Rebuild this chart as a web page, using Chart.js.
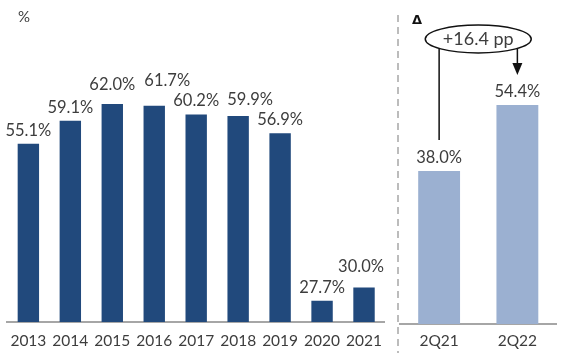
<!DOCTYPE html>
<html>
<head>
<meta charset="utf-8">
<script src="https://cdn.jsdelivr.net/npm/chart.js@4.4.1/dist/chart.umd.min.js"></script>
<style>
  html, body { margin: 0; padding: 0; background: #fff; }
  #wrap { position: relative; width: 566px; height: 353px; }
  #wrap canvas { position: absolute; left: 0; top: 0; }
</style>
</head>
<body>
<div id="wrap">
  <canvas id="years" width="566" height="353"></canvas>
  <canvas id="quarters" width="566" height="353"></canvas>
</div>
<script>
// yearly ratio, %
var years = ['2013', '2014', '2015', '2016', '2017', '2018', '2019', '2020', '2021'];
var yearValues = [55.1, 59.1, 62.0, 61.7, 60.2, 59.9, 56.9, 27.7, 30.0];

// second quarter comparison, %
var quarters = ['2Q21', '2Q22'];
var quarterValues = [38.0, 54.4];
var deltaText = '+16.4 pp';

// label nudges so neighbouring labels don't collide
var labelShiftX = [0, 0, 0, 13, 0, 12, 0, 0, -3];
var labelLift = [0, 0, 6, 12, 0, 3, 0, 0, 8];

var FONT = 'Lato, "Open Sans", sans-serif';
var TEXT = '#3d3d3d';
var AXIS = '#a6a6a6';

Chart.defaults.font.family = FONT;
Chart.defaults.color = TEXT;
Chart.defaults.animation = false;

var valueLabels = {
  id: 'valueLabels',
  afterDatasetsDraw: function (chart, args, opts) {
    var ctx = chart.ctx;
    var meta = chart.getDatasetMeta(0);
    var data = chart.data.datasets[0].data;
    ctx.save();
    ctx.font = '16.5px ' + FONT;
    ctx.fillStyle = TEXT;
    ctx.textAlign = 'center';
    ctx.textBaseline = 'alphabetic';
    meta.data.forEach(function (bar, i) {
      var dx = opts.dx ? opts.dx[i] : 0;
      var dy = opts.lift ? opts.lift[i] : 0;
      ctx.fillText(data[i].toFixed(1) + '%', bar.x + dx, bar.y - 8 - dy);
    });
    ctx.restore();
  }
};

// bottom axis with a fixed band height so both panels share the baseline
var xAxis = function (pad, band) {
  return {
    grid: { display: false, drawTicks: false },
    border: { display: true, color: AXIS, width: 2 },
    ticks: { font: { size: 15.5 }, color: TEXT, padding: pad, maxRotation: 0, autoSkip: false },
    afterFit: function (scale) { scale.height = band; }
  };
};

new Chart(document.getElementById('years'), {
  type: 'bar',
  data: {
    labels: years,
    datasets: [{
      data: yearValues,
      backgroundColor: '#21497c',
      barPercentage: 0.51,
      categoryPercentage: 1
    }]
  },
  options: {
    responsive: false,
    layout: { padding: { left: 7, right: 181, top: 10, bottom: 0 } },
    plugins: {
      legend: { display: false },
      tooltip: { enabled: false },
      valueLabels: { dx: labelShiftX, lift: labelLift }
    },
    scales: {
      x: xAxis(10, 31),
      y: { display: false, min: 24, max: 78.4 }
    }
  },
  plugins: [valueLabels, {
    id: 'unitMark',
    afterDraw: function (chart) {
      var ctx = chart.ctx;
      ctx.save();
      ctx.font = '15px ' + FONT;
      ctx.fillStyle = TEXT;
      ctx.textBaseline = 'alphabetic';
      ctx.fillText('%', 18, 22);
      ctx.restore();
    }
  }]
});

// divider, delta marker and the change bubble between the two quarters
var deltaNote = {
  id: 'deltaNote',
  afterDraw: function (chart) {
    var ctx = chart.ctx;
    var bars = chart.getDatasetMeta(0).data;
    var a = bars[0], b = bars[1];
    var cx = (a.x + b.x) / 2, cy = 39, rx = 53, ry = 14;
    var edgeY = function (x) {
      var t = (x - cx) / rx;
      return cy + ry * Math.sqrt(Math.max(0, 1 - t * t));
    };
    ctx.save();

    ctx.strokeStyle = AXIS;
    ctx.lineWidth = 1.5;
    ctx.setLineDash([7, 5]);
    ctx.beginPath();
    ctx.moveTo(398, 15);
    ctx.lineTo(398, 353);
    ctx.stroke();
    ctx.setLineDash([]);

    ctx.fillStyle = '#111';
    ctx.font = 'bold 13px "DejaVu Sans", sans-serif';
    ctx.fillText('\u0394', 412, 24);

    ctx.strokeStyle = '#111';
    ctx.lineWidth = 1.5;
    ctx.beginPath();
    ctx.ellipse(cx, cy, rx, ry, 0, 0, Math.PI * 2);
    ctx.stroke();

    ctx.beginPath();
    ctx.moveTo(a.x, edgeY(a.x));
    ctx.lineTo(a.x, a.y - 31);
    ctx.moveTo(b.x, edgeY(b.x));
    ctx.lineTo(b.x, b.y - 42);
    ctx.stroke();

    ctx.fillStyle = '#111';
    ctx.beginPath();
    ctx.moveTo(b.x - 5, b.y - 42);
    ctx.lineTo(b.x + 5, b.y - 42);
    ctx.lineTo(b.x, b.y - 30);
    ctx.closePath();
    ctx.fill();

    ctx.fillStyle = TEXT;
    ctx.font = '18px ' + FONT;
    ctx.textAlign = 'center';
    ctx.textBaseline = 'middle';
    ctx.fillText(deltaText, cx, cy);
    ctx.restore();
  }
};

new Chart(document.getElementById('quarters'), {
  type: 'bar',
  data: {
    labels: quarters,
    datasets: [{
      data: quarterValues,
      backgroundColor: '#9bb0d1',
      barPercentage: 0.535,
      categoryPercentage: 1
    }]
  },
  options: {
    responsive: false,
    layout: { padding: { left: 400, right: 9.5, top: 10, bottom: 0 } },
    plugins: {
      legend: { display: false },
      tooltip: { enabled: false }
    },
    scales: {
      x: xAxis(8, 29),
      y: { display: false, min: 0, max: 78 }
    }
  },
  plugins: [valueLabels, deltaNote]
});
</script>
</body>
</html>
